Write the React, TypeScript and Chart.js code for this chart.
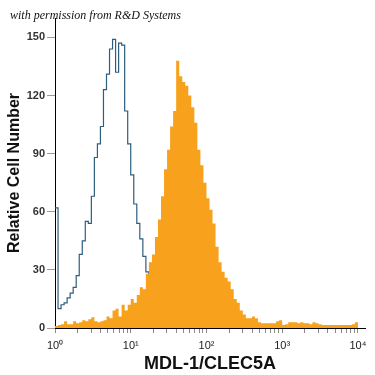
import React, { useEffect, useRef } from "react";
import { Chart, registerables } from "chart.js";

Chart.register(...registerables);

// Histogram channels: each bin spans BIN_DECADES of log10(intensity), starting at 10^0
const BIN_DECADES = 0.04;

// Isotype control (blue outline)
const isotypeCounts = [
  62, 10, 12, 13, 15.5, 18, 21, 27, 38, 45,
  55, 54, 68, 88, 95, 104, 123, 131, 144, 149,
  132, 147, 146, 112, 95, 79, 64, 54, 46, 37,
  29, 20, 12, 6, 3, 1,
];

// MDL-1/CLEC5A stained (orange filled)
const stainedCounts = [
  1, 1.5, 2, 3.5, 2, 2, 3.5, 2.5, 3, 4,
  3.5, 4.5, 5.5, 3.5, 3, 3.5, 4, 6, 5, 9,
  10, 6, 12, 9, 12, 15, 13, 17, 21, 20,
  28, 34, 38, 47, 56, 68, 82, 92, 104, 112,
  138, 130, 127, 125, 120, 114, 106, 92, 84, 75,
  67, 61, 54, 42, 34, 29, 26, 24, 20, 15,
  13, 9, 7, 5, 5, 6, 5, 3, 2.5, 2.5,
  2.5, 2.5, 2.5, 3.5, 4, 1.5, 2, 3, 3, 3,
  2.5, 3, 2.5, 2.5, 2, 3, 2.5, 2, 1.5, 1.5,
  1.5, 1.5, 1.5, 1.5, 1.5, 1.5, 1.5, 1.5, 2, 3,
];

const yTickValues = [0, 30, 60, 90, 120, 150];
const xDecades = [0, 1, 2, 3, 4];
const SUP = ["\u2070", "\u00B9", "\u00B2", "\u00B3", "\u2074"];

const X_MIN = 1;
const X_MAX = 12400;
const Y_MAX = 160;

function toPoints(counts: number[]) {
  const pts = counts.map((c, i) => ({ x: Math.pow(10, i * BIN_DECADES), y: c }));
  pts.push({ x: Math.pow(10, counts.length * BIN_DECADES), y: 0 });
  return pts;
}

export default function App() {
  const ref = useRef<HTMLCanvasElement | null>(null);

  useEffect(() => {
    if (!ref.current) return;
    const creditPlugin = {
      id: "credit",
      afterDraw(chart: any) {
        const ctx = chart.ctx;
        ctx.save();
        ctx.font = 'italic 12px "Liberation Serif"';
        ctx.fillStyle = "#111";
        ctx.textBaseline = "middle";
        ctx.textAlign = "left";
        ctx.fillText("with permission from R&D Systems", 10, 16);
        ctx.restore();
      },
    };

    const chart = new Chart(ref.current, {
      type: "line",
      data: {
        datasets: [
          {
            label: "MDL-1/CLEC5A",
            data: toPoints(stainedCounts),
            stepped: "before",
            fill: "origin",
            backgroundColor: "#f7a11c",
            borderColor: "#f7a11c",
            borderWidth: 0,
            pointRadius: 0,
          },
          {
            label: "Isotype",
            data: toPoints(isotypeCounts),
            stepped: "before",
            fill: false,
            borderColor: "#2e5d7e",
            borderWidth: 1.2,
            pointRadius: 0,
          },
        ],
      },
      options: {
        animation: false,
        responsive: false,
        devicePixelRatio: 1,
        layout: { padding: { top: 18, right: 10, left: 0, bottom: 0 } },
        plugins: {
          legend: { display: false },
          tooltip: { enabled: false },
          title: { display: false },
        },
        scales: {
          x: {
            type: "logarithmic",
            min: X_MIN,
            max: X_MAX,
            afterFit: (s: any) => {
              s.height = 47;
            },
            afterBuildTicks: (s: any) => {
              const t: any[] = [];
              for (let k = 0; k < xDecades.length; k++) {
                const base = Math.pow(10, xDecades[k]);
                if (k === xDecades.length - 1) {
                  t.push({ value: base });
                } else {
                  for (let m = 1; m <= 9; m++) t.push({ value: m * base });
                }
              }
              s.ticks = t;
            },
            grid: {
              drawOnChartArea: false,
              drawTicks: true,
              tickLength: 5,
              color: "#8a8a8a",
            },
            border: { display: true, color: "#000", width: 1 },
            ticks: {
              autoSkip: false,
              maxRotation: 0,
              padding: 6,
              color: "#222",
              font: { family: '"Liberation Sans"', size: 11 },
              callback: (v: any) => {
                const l = Math.log10(Number(v));
                const r = Math.round(l);
                if (Math.abs(l - r) < 1e-9) return "10" + SUP[r];
                return "";
              },
            },
            title: {
              display: true,
              text: "MDL-1/CLEC5A",
              color: "#111",
              font: { family: '"Liberation Sans"', size: 18, weight: "bold" },
              padding: { top: 1, bottom: 0 },
            },
          },
          y: {
            type: "linear",
            min: 0,
            max: Y_MAX,
            afterFit: (s: any) => {
              s.width = 55;
            },
            afterBuildTicks: (s: any) => {
              s.ticks = yTickValues.map((v) => ({ value: v }));
            },
            grid: {
              drawOnChartArea: false,
              drawTicks: true,
              tickLength: 8,
              color: "#9a9a9a",
            },
            border: { display: true, color: "#000", width: 1 },
            ticks: {
              padding: 2,
              color: "#333",
              font: { family: '"Liberation Sans"', size: 11, weight: "bold" },
            },
            title: {
              display: true,
              text: "Relative Cell Number",
              color: "#111",
              font: { family: '"Liberation Sans"', size: 16, weight: "bold" },
              padding: { top: 5, bottom: 0 },
            },
          },
        },
      } as any,
      plugins: [creditPlugin],
    });
    return () => chart.destroy();
  }, []);

  return (
    <div style={{ position: "absolute", left: 0, top: 0, width: 375, height: 375, background: "#fff" }}>
      <canvas ref={ref} width={375} height={375} style={{ display: "block" }} />
    </div>
  );
}
